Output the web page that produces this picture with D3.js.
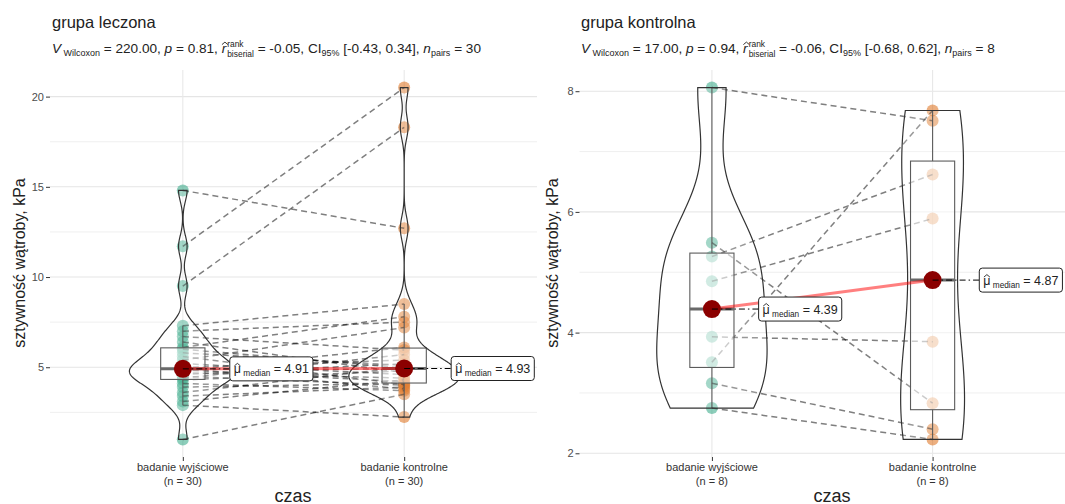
<!DOCTYPE html>
<html>
<head>
<meta charset="utf-8">
<script src="https://cdn.jsdelivr.net/npm/d3@7"></script>
<style>
  body { margin: 0; background: #fff; }
  svg text { font-family: "Liberation Sans", Arial, sans-serif; white-space: pre; }
</style>
</head>
<body>
<svg id="chart" width="1065" height="504"></svg>
<script>
// ---- data ----
var categories = ["badanie wyjściowe", "badanie kontrolne"];

// grupa leczona, paired (same index = same patient)
var leczonaBaseline = [14.8, 11.7, 9.5, 1.0, 2.9, 3.1, 3.4, 3.6, 3.9, 4.1, 4.3, 4.4, 4.5, 4.6, 4.7,
                       4.8, 4.85, 4.88, 4.94, 5.0, 5.2, 5.4, 5.6, 5.8, 6.0, 6.1, 6.4, 6.7, 7.0, 7.3];
var leczonaControl  = [12.7, 20.5, 18.3, 3.5, 2.24, 4.3, 3.9, 5.0, 4.1, 3.7, 4.8, 5.7, 4.0, 5.2, 4.4,
                       6.1, 4.2, 4.9, 3.8, 5.4, 4.6, 7.2, 4.05, 5.1, 4.96, 7.8, 4.7, 5.95, 7.5, 8.5];
var leczonaTicks = [5, 10, 15, 20];
var leczonaN = ["(n = 30)", "(n = 30)"];
var leczonaStats = ["220.00", "0.81", "-0.05", "-0.43", "0.34", "30"];

// grupa kontrolna
var kontrolnaBaseline = [8.06, 5.49, 5.26, 4.85, 3.93, 3.51, 3.16, 2.75];
var kontrolnaControl  = [7.51, 2.83, 6.62, 5.89, 3.85, 7.68, 2.40, 2.23];
var kontrolnaTicks = [2, 4, 6, 8];
var kontrolnaN = ["(n = 8)", "(n = 8)"];
var kontrolnaStats = ["17.00", "0.94", "-0.06", "-0.68", "0.62", "8"];

var yTitle = "sztywność wątroby, kPa";
var xTitle = "czas";
var colors = ["#1B9E77", "#D95F02"];

var svg = d3.select("#chart");

// write a run of text pieces, measuring each one, returns width
function writeRun(g, x, y, segs, base) {
  var cx = x;
  segs.forEach(function(s) {
    if (s.stack) {
      cx += 1;
      var a = g.append("text").attr("x", cx).attr("y", y - 6).attr("font-size", base * 0.62)
        .attr("fill", "#222").text(s.stack[0]);
      var b = g.append("text").attr("x", cx).attr("y", y + 3.5).attr("font-size", base * 0.62)
        .attr("fill", "#222").text(s.stack[1]);
      cx += Math.max(a.node().getComputedTextLength(), b.node().getComputedTextLength());
      return;
    }
    var size = s.sub ? base * 0.66 : base;
    var t = g.append("text").attr("x", cx).attr("y", y + (s.sub ? 3 : 0))
      .attr("font-size", size).attr("fill", "#222")
      .attr("font-style", s.italic ? "italic" : null).text(s.t);
    var w = t.node().getComputedTextLength();
    if (s.hat) {
      // little circumflex drawn as a path above the glyph
      var hx = cx + w / 2 + (s.italic ? 1 : 0), hy = y - base * 0.8;
      g.append("path")
        .attr("d", "M" + (hx - 3) + "," + (hy + 2.5) + "L" + hx + "," + hy + "L" + (hx + 3) + "," + (hy + 2.5))
        .attr("fill", "none").attr("stroke", "#222").attr("stroke-width", 0.9);
    }
    cx += w;
  });
  return cx - x;
}

function subtitleSegs(st) {
  return [
    {t: "V", italic: true}, {t: " Wilcoxon", sub: true}, {t: " = " + st[0] + ", "},
    {t: "p", italic: true}, {t: " = " + st[1] + ", "},
    {t: "r", italic: true, hat: true}, {stack: ["rank", "biserial"]},
    {t: " = " + st[2] + ", CI"}, {t: "95%", sub: true},
    {t: " [" + st[3] + ", " + st[4] + "], "},
    {t: "n", italic: true}, {t: "pairs", sub: true}, {t: " = " + st[5]}
  ];
}

// gaussian kde, bw.nrd0 like R
function violinPath(vals) {
  var s = vals.slice().sort(d3.ascending);
  var iqr = d3.quantile(s, 0.75) - d3.quantile(s, 0.25);
  var bw = 0.9 * Math.min(d3.deviation(s), iqr / 1.34) * Math.pow(s.length, -0.2);
  var lo = s[0], hi = s[s.length - 1];
  return d3.range(512).map(function(i) {
    var v = lo + (hi - lo) * i / 511;
    var d = d3.sum(s, function(xi) {
      var u = (v - xi) / bw;
      return Math.exp(-0.5 * u * u);
    }) / (s.length * bw * Math.sqrt(2 * Math.PI));
    return [v, d];
  });
}

function drawPanel(p) {
  var g = svg.append("g");
  var all = p.base.concat(p.ctrl);
  var ext = d3.extent(all), pad = 0.05 * (ext[1] - ext[0]);
  var y = d3.scaleLinear().domain([ext[0] - pad, ext[1] + pad]).range([457, 70]);
  var x = d3.scalePoint().domain(categories).range([p.x0, p.x1]).padding(0.6);
  var step = x.step();

  // grid
  var minor = [];
  var tstep = p.ticks[1] - p.ticks[0];
  [p.ticks[0] - tstep].concat(p.ticks).forEach(function(t) {
    var m = t + tstep / 2;
    if (m > y.domain()[0] && m < y.domain()[1]) minor.push(m);
  });
  g.selectAll(".minor").data(minor).enter().append("line")
    .attr("x1", p.x0).attr("x2", p.x1).attr("y1", y).attr("y2", y)
    .attr("stroke", "#ebebeb").attr("stroke-width", 0.8);
  g.selectAll(".major").data(p.ticks).enter().append("line")
    .attr("x1", p.x0).attr("x2", p.x1).attr("y1", y).attr("y2", y)
    .attr("stroke", "#e5e5e5").attr("stroke-width", 1.1);
  g.selectAll(".vgrid").data(categories).enter().append("line")
    .attr("x1", x).attr("x2", x).attr("y1", 70).attr("y2", 457)
    .attr("stroke", "#e8e8e8").attr("stroke-width", 1.1);

  // axes
  var ya = g.append("g").attr("transform", "translate(" + p.x0 + ",0)")
    .call(d3.axisLeft(y).tickValues(p.ticks).tickFormat(d3.format("d")).tickSize(4).tickPadding(2));
  ya.select(".domain").remove();
  ya.selectAll("line").attr("stroke", "#333");
  ya.selectAll("text").attr("font-size", 11).attr("fill", "#4d4d4d").attr("font-family", null);

  var xa = g.append("g").attr("transform", "translate(0,457)")
    .call(d3.axisBottom(x).tickSize(4).tickFormat(""));
  xa.select(".domain").remove();
  xa.selectAll("line").attr("stroke", "#333");
  categories.forEach(function(c, i) {
    g.append("text").attr("x", x(c)).attr("y", 471).attr("text-anchor", "middle")
      .attr("font-size", 11).attr("fill", "#333").text(c);
    g.append("text").attr("x", x(c)).attr("y", 484.5).attr("text-anchor", "middle")
      .attr("font-size", 11).attr("fill", "#333").text(p.nLabels[i]);
  });

  var groups = [p.base, p.ctrl];

  // points
  groups.forEach(function(vals, gi) {
    g.selectAll(".pt" + gi).data(vals).enter().append("circle")
      .attr("cx", x(categories[gi])).attr("cy", y).attr("r", 6)
      .attr("fill", colors[gi]).attr("fill-opacity", 0.5);
  });

  // paired paths
  g.selectAll(".pair").data(p.base).enter().append("line")
    .attr("x1", x(categories[0])).attr("y1", function(d) { return y(d); })
    .attr("x2", x(categories[1])).attr("y2", function(d, i) { return y(p.ctrl[i]); })
    .attr("stroke", "#000").attr("stroke-opacity", 0.5).attr("stroke-width", 1.5)
    .attr("stroke-dasharray", "6,4");

  // boxplots
  groups.forEach(function(vals, gi) {
    var s = vals.slice().sort(d3.ascending);
    var q1 = d3.quantile(s, 0.25), q2 = d3.quantile(s, 0.5), q3 = d3.quantile(s, 0.75);
    var iqr = q3 - q1;
    var lo = d3.min(s.filter(function(v) { return v >= q1 - 1.5 * iqr; }));
    var hi = d3.max(s.filter(function(v) { return v <= q3 + 1.5 * iqr; }));
    var cx = x(categories[gi]), hw = 0.1 * step;
    g.append("line").attr("x1", cx).attr("x2", cx).attr("y1", y(q3)).attr("y2", y(hi))
      .attr("stroke", "#333").attr("stroke-width", 1.1);
    g.append("line").attr("x1", cx).attr("x2", cx).attr("y1", y(q1)).attr("y2", y(lo))
      .attr("stroke", "#333").attr("stroke-width", 1.1);
    g.append("rect").attr("x", cx - hw).attr("width", 2 * hw)
      .attr("y", y(q3)).attr("height", y(q1) - y(q3))
      .attr("fill", "#fff").attr("fill-opacity", 0.5)
      .attr("stroke", "#333").attr("stroke-width", 1.1);
    g.append("line").attr("x1", cx - hw).attr("x2", cx + hw).attr("y1", y(q2)).attr("y2", y(q2))
      .attr("stroke", "#444").attr("stroke-width", 3);
  });

  // violins, area scaled
  var dens = groups.map(violinPath);
  var dmax = d3.max(dens, function(dd) { return d3.max(dd, function(e) { return e[1]; }); });
  dens.forEach(function(dd, gi) {
    var cx = x(categories[gi]);
    var w = d3.scaleLinear().domain([0, dmax]).range([0, 0.25 * step]);
    var pts = dd.map(function(e) { return [cx + w(e[1]), y(e[0])]; })
      .concat(dd.slice().reverse().map(function(e) { return [cx - w(e[1]), y(e[0])]; }));
    g.append("path").attr("d", d3.line()(pts) + "Z")
      .attr("fill", "#fff").attr("fill-opacity", 0.2)
      .attr("stroke", "#333").attr("stroke-width", 1.2);
  });

  // centrality
  var meds = groups.map(function(v) { return d3.median(v); });
  g.append("line").attr("x1", x(categories[0])).attr("y1", y(meds[0]))
    .attr("x2", x(categories[1])).attr("y2", y(meds[1]))
    .attr("stroke", "red").attr("stroke-opacity", 0.5).attr("stroke-width", 3);
  meds.forEach(function(m, gi) {
    var cx = x(categories[gi]);
    g.append("circle").attr("cx", cx).attr("cy", y(m)).attr("r", 9).attr("fill", "#8B0000");
    var lab = g.append("g");
    var lx = cx + 0.4 * step;
    var tw = writeRun(lab, 0, 0, [{t: "μ", hat: true}, {t: " median", sub: true}, {t: " = " + d3.format(".2f")(m)}], 12.5);
    lab.selectAll("text, path").attr("transform", "translate(" + (lx - tw / 2) + "," + (y(m) + 4.5) + ")");
    var bw = tw + 8;
    lab.insert("rect", ":first-child").attr("x", lx - bw / 2).attr("y", y(m) - 12).attr("width", bw).attr("height", 24)
      .attr("rx", 3).attr("fill", "#fff").attr("stroke", "#222").attr("stroke-width", 1);
    g.insert("line", function() { return lab.node(); })
      .attr("x1", cx).attr("y1", y(m)).attr("x2", lx - bw / 2).attr("y2", y(m))
      .attr("stroke", "#000").attr("stroke-width", 1).attr("stroke-dasharray", "6,3,1.5,3");
  });

  // titles
  g.append("text").attr("x", p.titleX).attr("y", 28).attr("font-size", 16.5).attr("fill", "#222").text(p.title);
  writeRun(g.append("g"), p.titleX, 53, subtitleSegs(p.stats), 13.6);
  g.append("text").attr("transform", "translate(" + p.yTitleX + "," + 263 + ") rotate(-90)")
    .attr("text-anchor", "middle").attr("font-size", 16).attr("fill", "#222").text(yTitle);
  g.append("text").attr("x", p.czasX).attr("y", 502).attr("text-anchor", "middle")
    .attr("font-size", 18).attr("fill", "#222").text(xTitle);
}

drawPanel({title: "grupa leczona", base: leczonaBaseline, ctrl: leczonaControl, ticks: leczonaTicks,
  nLabels: leczonaN, stats: leczonaStats, x0: 50, x1: 537, titleX: 52, yTitleX: 25, czasX: 293});
drawPanel({title: "grupa kontrolna", base: kontrolnaBaseline, ctrl: kontrolnaControl, ticks: kontrolnaTicks,
  nLabels: kontrolnaN, stats: kontrolnaStats, x0: 579.5, x1: 1065, titleX: 581, yTitleX: 558, czasX: 832});
</script>
</body>
</html>
